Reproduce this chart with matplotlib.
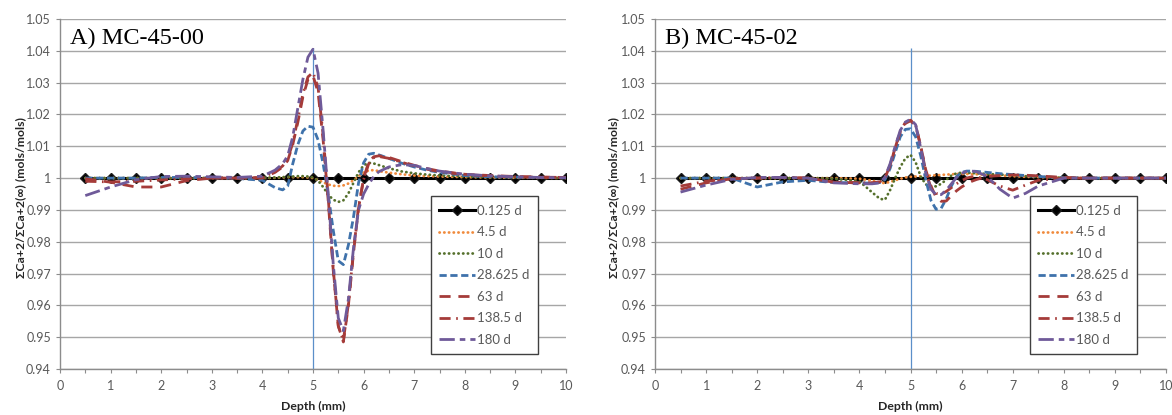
# Ca+2 normalised profiles vs depth, two cores side by side (MC-45-00 / MC-45-02)
import matplotlib
matplotlib.use("Agg")
import matplotlib.pyplot as plt

# --- Data
# 0.125 d series: the one drawn with markers
depth_pts = [0.5, 1.0, 1.5, 2.0, 2.5, 3.0, 3.5, 4.0, 4.5, 5.0,
             5.5, 6.0, 6.5, 7.0, 7.5, 8.0, 8.5, 9.0, 9.5, 10.0]
init_a = [1.0] * len(depth_pts)
init_b = [1.0] * len(depth_pts)

# depth grid of the other (smoothed) series
depth = [0.5, 1.0, 1.5, 2.0, 2.5, 3.0, 3.5, 4.0,
         4.25, 4.4, 4.5, 4.6, 4.7, 4.8, 4.9,
         5.0, 5.1, 5.2, 5.3, 5.4, 5.5, 5.6, 5.7, 5.8, 5.9,
         6.0, 6.1, 6.2, 6.3, 6.5, 6.75, 7.0, 7.25, 7.5,
         8.0, 8.5, 9.0, 9.5, 10.0]

# panel A: MC-45-00
a_d4_5 = [1.0, 1.0, 1.0, 1.0, 1.0, 1.0, 1.0, 1.0,
          1.0001, 1.0002, 1.0003, 1.0003, 1.0003, 1.0003, 1.0002,
          1.0, 0.9994, 0.9987, 0.998, 0.9976, 0.9975, 0.9977, 0.9983, 0.9993, 1.0006,
          1.0018, 1.0024, 1.0025, 1.0022, 1.0017, 1.0012, 1.0008, 1.0006, 1.0005,
          1.0003, 1.0002, 1.0001, 1.0001, 1.0]
a_d10 = [1.0, 1.0, 1.0, 1.0, 1.0, 1.0, 1.0, 1.0001,
         1.0002, 1.0003, 1.0004, 1.0005, 1.0006, 1.0006, 1.0005,
         1.0002, 0.9992, 0.9972, 0.9948, 0.9932, 0.9925, 0.993, 0.9952, 0.9985, 1.0018,
         1.004, 1.0048, 1.0046, 1.0041, 1.0031, 1.0021, 1.0015, 1.0011, 1.0008,
         1.0005, 1.0003, 1.0002, 1.0001, 1.0]
a_d28 = [1.0, 1.0, 1.0, 1.0002, 1.0002, 1.0001, 0.9999, 0.9993,
         0.997, 0.9963, 0.9975, 1.0045, 1.0105, 1.0148, 1.0163,
         1.016, 1.012, 1.0045, 0.995, 0.9836, 0.974, 0.9728, 0.979, 0.9877, 0.9985,
         1.0048, 1.0075, 1.0078, 1.0073, 1.0062, 1.0047, 1.0035, 1.0025, 1.0018,
         1.0008, 1.0004, 1.0003, 1.0002, 1.0001]
a_d63 = [0.9998, 0.9987, 0.9972, 0.9972, 0.9992, 1.0, 1.0, 1.0,
         1.0018, 1.0035, 1.0055, 1.0105, 1.0175, 1.0255, 1.031,
         1.0322, 1.027, 1.012, 0.993, 0.971, 0.9535, 0.9485, 0.96, 0.9765, 0.9905,
         1.0, 1.005, 1.0067, 1.007, 1.0065, 1.0052, 1.004, 1.003, 1.0022,
         1.0012, 1.0008, 1.0005, 1.0003, 1.0002]
a_d138 = [0.999, 0.9988, 0.999, 0.9994, 0.9998, 1.0, 1.0, 1.0002,
          1.002, 1.0038, 1.006, 1.011, 1.0185, 1.0265, 1.0318,
          1.0332, 1.0285, 1.0135, 0.994, 0.9715, 0.9535, 0.949, 0.9605, 0.977, 0.991,
          0.9995, 1.0045, 1.0064, 1.0068, 1.0062, 1.005, 1.0038, 1.0028, 1.002,
          1.0011, 1.0007, 1.0004, 1.0003, 1.0002]
a_d180 = [0.9945, 0.9972, 0.9995, 1.0005, 1.0006, 1.0004, 1.0002, 1.0006,
          1.0025, 1.0045, 1.007, 1.013, 1.022, 1.031, 1.038,
          1.0405, 1.033, 1.015, 0.995, 0.973, 0.956, 0.952, 0.962, 0.978, 0.99,
          0.995, 0.998, 1.0005, 1.002, 1.0035, 1.0042, 1.004, 1.003, 1.0022,
          1.0012, 1.0007, 1.0004, 1.0002, 1.0001]

# panel B: MC-45-02
b_d4_5 = [1.0, 1.0, 1.0, 1.0, 1.0, 1.0, 1.0, 0.9998,
          0.9992, 0.9986, 0.9984, 0.9988, 0.9993, 0.9998, 1.0002,
          1.0004, 1.0005, 1.0006, 1.0007, 1.0008, 1.0009, 1.001, 1.0011, 1.0012, 1.0013,
          1.0013, 1.0013, 1.0012, 1.0012, 1.001, 1.0008, 1.0006, 1.0004, 1.0003,
          1.0001, 1.0, 1.0, 1.0, 1.0]
b_d10 = [1.0, 1.0, 1.0, 1.0, 1.0, 1.0, 0.9998, 0.999,
         0.9955, 0.9935, 0.9932, 0.9962, 1.0, 1.0035, 1.0062,
         1.0073, 1.005, 1.0005, 0.998, 0.9975, 0.9974, 0.9982, 0.9995, 1.0008, 1.0015,
         1.0017, 1.0017, 1.0016, 1.0015, 1.0013, 1.0011, 1.0009, 1.0006, 1.0004,
         1.0001, 1.0, 1.0, 1.0, 1.0]
b_d28 = [1.0, 1.0, 1.0, 0.9972, 0.9988, 0.9993, 0.9986, 0.9985,
         0.9984, 0.9986, 0.9995, 1.003, 1.008, 1.013, 1.0153,
         1.0155, 1.013, 1.007, 0.9995, 0.993, 0.9902, 0.9905, 0.9935, 0.9975, 1.0005,
         1.0018, 1.0022, 1.0022, 1.0021, 1.0018, 1.0014, 1.0011, 1.0008, 1.0005,
         1.0001, 1.0, 1.0, 1.0, 1.0]
b_d63 = [0.9965, 0.9985, 0.9998, 1.0, 1.0002, 1.0, 0.9987, 0.9985,
         0.9985, 0.9988, 1.0, 1.004, 1.0095, 1.0145, 1.0172,
         1.018, 1.0165, 1.01, 1.0025, 0.9975, 0.994, 0.9927, 0.9928, 0.9945, 0.996,
         0.9972, 0.9982, 0.999, 0.9996, 1.0005, 1.0008, 1.001, 1.0009, 1.0007,
         1.0002, 1.0, 1.0, 1.0, 1.0]
b_d138 = [0.9975, 0.999, 0.9998, 1.0, 1.0002, 1.0, 0.9987, 0.9985,
          0.9985, 0.9988, 1.0, 1.004, 1.0095, 1.0148, 1.0175,
          1.0182, 1.0168, 1.01, 1.002, 0.997, 0.9952, 0.995, 0.9958, 0.997, 0.9982,
          0.9992, 1.0, 1.0004, 1.0004, 0.9995, 0.9975, 0.9962, 0.9978, 0.9993,
          1.0, 1.0, 1.0, 1.0, 1.0]
b_d180 = [0.9956, 0.9978, 0.9996, 1.0002, 1.0002, 1.0, 0.9985, 0.9982,
          0.9982, 0.9985, 1.0003, 1.0045, 1.01, 1.015, 1.0176,
          1.0185, 1.0168, 1.0095, 1.0015, 0.9965, 0.9948, 0.9948, 0.9962, 0.9982, 1.0002,
          1.0015, 1.0021, 1.0022, 1.002, 1.0005, 0.9965, 0.9937, 0.9952, 0.9975,
          1.0, 1.0, 1.0, 1.0, 1.0]

labels = ["0.125 d", "4.5 d", "10 d", "28.625 d", "63 d", "138.5 d", "180 d"]
panels = [
    ("A) MC-45-00", init_a, [a_d4_5, a_d10, a_d28, a_d63, a_d138, a_d180]),
    ("B) MC-45-02", init_b, [b_d4_5, b_d10, b_d28, b_d63, b_d138, b_d180]),
]

interface_depth = 5.0
interface_top = 1.041

# --- Styles (Excel-like)
styles = [
    dict(color="#f08a3c", lw=2.0, ls=(0, (0.1, 1.6)), dash_capstyle="round"),
    dict(color="#55702c", lw=2.0, ls=(0, (0.1, 1.6)), dash_capstyle="round"),
    dict(color="#3f72ab", lw=2.0, ls=(0, (2.6, 1.3))),
    dict(color="#a53b39", lw=2.0, ls=(0, (4.0, 2.8))),
    dict(color="#a53b39", lw=2.0, ls=(0, (4.0, 2.0, 0.6, 2.0))),
    dict(color="#6f5a99", lw=2.0, ls=(0, (5.5, 1.8, 2.0, 1.8))),
]

tick_font = ["Lato", "DejaVu Sans"]
grey = "#595959"

fig = plt.figure(figsize=(11.72, 4.15), dpi=100)
axes_rects = [
    [60 / 1172, 46 / 415, 506 / 1172, 350 / 415],
    [655 / 1172, 46 / 415, 511 / 1172, 350 / 415],
]
ylabel_x = [-0.066, -0.071]

for i, (title, init, series) in enumerate(panels):
    ax = fig.add_axes(axes_rects[i])

    ax.plot(depth_pts, init, color="black", lw=2.2, marker="D", ms=5.5,
            mfc="black", mec="#1a1a1a", label=labels[0], zorder=3)
    for vals, lab, st in zip(series, labels[1:], styles):
        ax.plot(depth, vals, color=st["color"], lw=st["lw"], linestyle=st["ls"],
                dash_capstyle=st.get("dash_capstyle", "butt"), label=lab, zorder=3)

    ax.vlines(interface_depth, 0.94, interface_top, color="#5b8fc9", lw=0.9, zorder=2)

    ax.set_xlim(0, 10)
    ax.set_ylim(0.94, 1.05)
    ax.set_xticks(range(0, 11))
    ax.set_xticks([k + 0.5 for k in range(10)], minor=True)
    yt = [0.94 + 0.01 * k for k in range(12)]
    ax.set_yticks(yt)
    ax.set_yticklabels(["1" if abs(v - 1) < 1e-9 else f"{v:.2f}" for v in yt])

    ax.grid(axis="y", color="#a6a6a6", lw=1.0, zorder=0)
    ax.set_axisbelow(True)
    for s in ["top", "right"]:
        ax.spines[s].set_visible(False)
    for s in ["left", "bottom"]:
        ax.spines[s].set_color("#8c8c8c")
        ax.spines[s].set_linewidth(1.0)
    ax.tick_params(which="both", direction="out", length=3, width=0.8,
                   color="#8c8c8c", labelcolor=grey, labelsize=9)
    ax.tick_params(axis="x", which="major", pad=5)
    for t in ax.get_xticklabels() + ax.get_yticklabels():
        t.set_family(tick_font)

    ax.set_xlabel("Depth (mm)", fontsize=8.8, fontweight="bold", color="#262626",
                  family=tick_font)
    ax.xaxis.set_label_coords(0.5, -0.092)
    ax.set_ylabel("ΣCa+2/ΣCa+2(∞) (mols/mols)", fontsize=8.8, fontweight="bold",
                  color="#262626", family=tick_font)
    ax.yaxis.set_label_coords(ylabel_x[i], 0.489)

    ax.text(0.02, 0.929, title, transform=ax.transAxes, family="Liberation Serif",
            fontsize=17.5, color="black", va="baseline", ha="left")

    leg = ax.legend(loc="upper left", bbox_to_anchor=(0.733, 0.494),
                    frameon=True, fancybox=False, framealpha=1, edgecolor="#404040",
                    handlelength=2.7, handletextpad=0.15, labelspacing=0.72,
                    borderpad=0.65, borderaxespad=0,
                    prop={"family": tick_font, "size": 9.5})
    leg.get_frame().set_linewidth(1.0)
    for t in leg.get_texts():
        t.set_color(grey)

fig.savefig("out.png", dpi=100)
